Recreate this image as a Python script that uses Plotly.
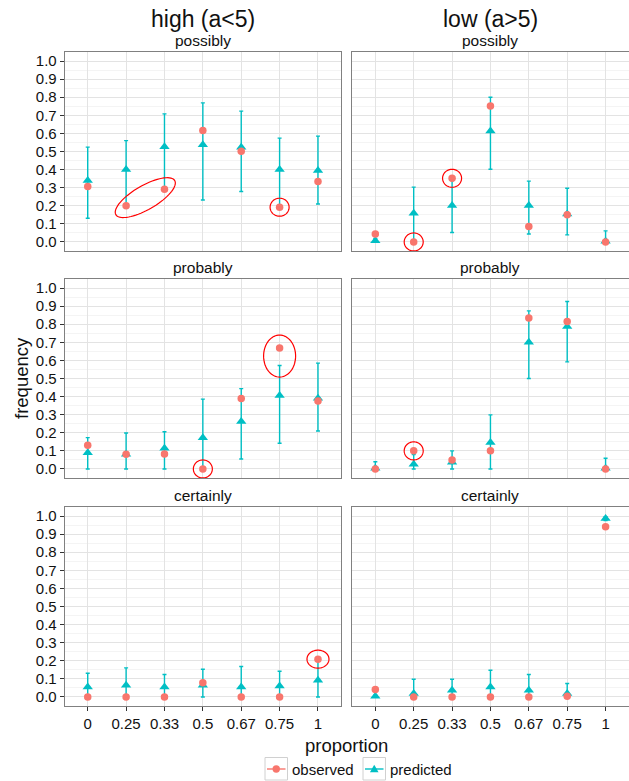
import math
import plotly.graph_objects as go

W, H = 629, 781

categories = ["0", "0.25", "0.33", "0.5", "0.67", "0.75", "1"]
groups = ["high (a<5)", "low (a>5)"]
levels = ["possibly", "probably", "certainly"]
series_names = ["observed", "predicted"]

# observed frequencies
obs_high_possibly = [0.306, 0.200, 0.292, 0.616, 0.502, 0.192, 0.334]
obs_low_possibly = [0.044, 0.000, 0.352, 0.751, 0.085, 0.151, 0.000]
obs_high_probably = [0.131, 0.081, 0.083, 0.000, 0.389, 0.668, 0.376]
obs_low_probably = [0.000, 0.100, 0.050, 0.100, 0.834, 0.815, 0.000]
obs_high_certainly = [0.000, 0.000, 0.000, 0.079, 0.000, 0.000, 0.209]
obs_low_certainly = [0.041, 0.000, 0.000, 0.000, 0.000, 0.004, 0.941]

# predicted frequencies
pred_high_possibly = [0.340, 0.400, 0.526, 0.538, 0.524, 0.400, 0.395]
pred_low_possibly = [0.007, 0.159, 0.201, 0.613, 0.201, 0.155, 0.004]
pred_high_probably = [0.090, 0.081, 0.114, 0.173, 0.262, 0.406, 0.391]
pred_low_probably = [0.004, 0.026, 0.037, 0.146, 0.701, 0.787, 0.004]
pred_high_certainly = [0.055, 0.065, 0.055, 0.065, 0.055, 0.061, 0.092]
pred_low_certainly = [0.004, 0.019, 0.037, 0.055, 0.037, 0.019, 0.987]

# predicted interval upper / lower bounds
upper_high_possibly = [0.524, 0.560, 0.708, 0.769, 0.723, 0.574, 0.585]
lower_high_possibly = [0.131, 0.200, 0.300, 0.232, 0.279, 0.200, 0.210]
upper_low_possibly = [0.020, 0.303, 0.340, 0.800, 0.336, 0.297, 0.061]
lower_low_possibly = [0.000, 0.000, 0.052, 0.402, 0.044, 0.039, 0.000]
upper_high_probably = [0.173, 0.199, 0.206, 0.386, 0.444, 0.572, 0.585]
lower_high_probably = [0.000, 0.000, 0.000, 0.000, 0.055, 0.142, 0.210]
upper_low_probably = [0.040, 0.080, 0.100, 0.299, 0.874, 0.926, 0.059]
lower_low_probably = [0.000, 0.000, 0.000, 0.000, 0.500, 0.592, 0.000]
upper_high_certainly = [0.131, 0.161, 0.124, 0.153, 0.168, 0.142, 0.200]
lower_high_certainly = [0.000, 0.000, 0.000, 0.000, 0.000, 0.000, 0.000]
upper_low_certainly = [0.010, 0.098, 0.098, 0.148, 0.124, 0.074, 0.997]
lower_low_certainly = [0.000, 0.000, 0.000, 0.000, 0.000, 0.000, 0.975]

panels = {
    ("possibly", 0): (obs_high_possibly, pred_high_possibly, upper_high_possibly, lower_high_possibly),
    ("possibly", 1): (obs_low_possibly, pred_low_possibly, upper_low_possibly, lower_low_possibly),
    ("probably", 0): (obs_high_probably, pred_high_probably, upper_high_probably, lower_high_probably),
    ("probably", 1): (obs_low_probably, pred_low_probably, upper_low_probably, lower_low_probably),
    ("certainly", 0): (obs_high_certainly, pred_high_certainly, upper_high_certainly, lower_high_certainly),
    ("certainly", 1): (obs_low_certainly, pred_low_certainly, upper_low_certainly, lower_low_certainly),
}

# highlighted points: (level, column, category index, value, rx_px, ry_px, angle_deg)
highlights = [
    ("possibly", 0, 1.5, 0.245, 34, 12, 30),
    ("possibly", 0, 5, 0.192, 9.5, 9, 0),
    ("possibly", 1, 1, 0.0, 9.5, 9, 0),
    ("possibly", 1, 2, 0.352, 9.5, 9, 0),
    ("probably", 0, 3, 0.0, 9.5, 9, 0),
    ("probably", 0, 5, 0.624, 16, 21, 0),
    ("probably", 1, 1, 0.10, 9.5, 9, 0),
    ("certainly", 0, 6, 0.209, 11, 9, 0),
]

RED = "#F8766D"
CYAN = "#00BFC4"
FONT = "Liberation Sans, Arial, sans-serif"

# panel geometry in pixels
col_x = [(64.7, 341.0), (352.3, 628.6)]
row_y = [(52, 251), (279, 478), (507, 706)]
XR = [-0.6, 6.6]
YR = [-0.05, 1.05]

fig = go.Figure()
layout = dict(
    width=W, height=H,
    margin=dict(l=0, r=0, t=0, b=0),
    paper_bgcolor="white", plot_bgcolor="white",
    font=dict(family=FONT, color="#111"),
    showlegend=False,
)
shapes = []
annotations = []
xs = list(range(len(categories)))

for r, lev in enumerate(levels):
    for c in range(2):
        k = r * 2 + c + 1
        xa = "x" if k == 1 else f"x{k}"
        ya = "y" if k == 1 else f"y{k}"
        obs, pred, up, lo = panels[(lev, c)]
        fig.add_trace(go.Scatter(
            x=xs, y=pred, mode="markers", xaxis=xa, yaxis=ya, name=series_names[1],
            marker=dict(symbol="triangle-up", size=9, color=CYAN),
            error_y=dict(type="data", symmetric=False,
                         array=[u - p for u, p in zip(up, pred)],
                         arrayminus=[p - l for p, l in zip(pred, lo)],
                         color=CYAN, thickness=1.4, width=2),
            hoverinfo="y"))
        fig.add_trace(go.Scatter(
            x=xs, y=obs, mode="markers", xaxis=xa, yaxis=ya, name=series_names[0],
            marker=dict(symbol="circle", size=7.5, color=RED),
            hoverinfo="y"))

        x0, x1 = col_x[c]
        y0, y1 = row_y[r]
        xd = [x0 / W, x1 / W]
        yd = [1 - y1 / H, 1 - y0 / H]
        xkey = "xaxis" if k == 1 else f"xaxis{k}"
        ykey = "yaxis" if k == 1 else f"yaxis{k}"
        bottom = (r == len(levels) - 1)
        left = (c == 0)
        layout[xkey] = dict(
            domain=xd, anchor=ya, range=XR, tickmode="array",
            tickvals=xs, ticktext=categories,
            showticklabels=bottom, ticks="outside" if bottom else "",
            ticklen=4, tickcolor="#333", tickfont=dict(size=15, color="#111"),
            showgrid=True, gridcolor="#e3e3e3", gridwidth=1,
            zeroline=False, showline=True, linecolor="#808080",
            linewidth=1, mirror=True, fixedrange=True)
        layout[ykey] = dict(
            domain=yd, anchor=xa, range=YR, tickmode="array",
            tickvals=[i / 10 for i in range(11)],
            ticktext=[f"{i / 10:.1f}" for i in range(11)],
            showticklabels=left, ticks="outside" if left else "",
            ticklen=4, tickcolor="#333", tickfont=dict(size=15, color="#111"),
            showgrid=True, gridcolor="#e3e3e3", gridwidth=1,
            minor=dict(tickvals=[i / 10 + 0.05 for i in range(-1, 11)],
                       showgrid=True, gridcolor="#f4f4f4", gridwidth=1, ticks=""),
            zeroline=False, showline=True, linecolor="#808080",
            linewidth=1, mirror=True, fixedrange=True)

        # strip title
        annotations.append(dict(
            text=lev, x=(xd[0] + xd[1]) / 2, y=yd[1], xref="paper", yref="paper",
            xanchor="center", yanchor="bottom", yshift=1, showarrow=False,
            font=dict(size=15.5, color="#111")))

        # highlight ellipses
        ppx = (x1 - x0) / (XR[1] - XR[0])
        ppy = (y1 - y0) / (YR[1] - YR[0])
        for (hl, hc, hx, hy, rx, ry, ang) in highlights:
            if hl != lev or hc != c:
                continue
            t = math.radians(ang)
            pts = []
            for i in range(73):
                a = 2 * math.pi * i / 72
                ex, ey = rx * math.cos(a), ry * math.sin(a)
                dx = ex * math.cos(t) - ey * math.sin(t)
                dy = ex * math.sin(t) + ey * math.cos(t)
                pts.append((hx + dx / ppx, hy + dy / ppy))
            path = "M " + " L ".join(f"{px:.4f},{py:.4f}" for px, py in pts) + " Z"
            shapes.append(dict(type="path", path=path, xref=xa, yref=ya,
                               line=dict(color="#FF0000", width=1.2)))

# column titles
for c, g in enumerate(groups):
    x0, x1 = col_x[c]
    annotations.append(dict(
        text=g, x=(x0 + x1) / 2 / W, y=1 - 19 / H, xref="paper", yref="paper",
        xanchor="center", yanchor="middle", showarrow=False,
        font=dict(size=23, color="#111")))

annotations.append(dict(
    text="proportion", x=(col_x[0][0] + col_x[1][1]) / 2 / W, y=1 - 745 / H,
    xref="paper", yref="paper", xanchor="center", yanchor="middle",
    showarrow=False, font=dict(size=18.5, color="#111")))
annotations.append(dict(
    text="frequency", x=22 / W, y=1 - 378 / H, xref="paper", yref="paper",
    xanchor="center", yanchor="middle", textangle=-90,
    showarrow=False, font=dict(size=18.5, color="#111")))

# legend drawn ggplot-style: boxed keys with line + marker, then label
def px_x(v):
    return v / W

def px_y(v):
    return 1 - v / H

legend_keys = [(265, series_names[0], RED, "circle"), (363, series_names[1], CYAN, "triangle")]
ky0, ky1, kc = 757.5, 780, 769
for kx, name, col, sym in legend_keys:
    shapes.append(dict(type="rect", xref="paper", yref="paper",
                       x0=px_x(kx), x1=px_x(kx + 22.5), y0=px_y(ky1), y1=px_y(ky0),
                       line=dict(color="#d0d0d0", width=1), fillcolor="white", layer="above"))
    shapes.append(dict(type="line", xref="paper", yref="paper",
                       x0=px_x(kx + 2), x1=px_x(kx + 20.5), y0=px_y(kc), y1=px_y(kc),
                       line=dict(color=col, width=1.4), layer="above"))
    cx = kx + 11.25
    if sym == "circle":
        shapes.append(dict(type="circle", xref="paper", yref="paper",
                           x0=px_x(cx - 3.7), x1=px_x(cx + 3.7),
                           y0=px_y(kc + 3.7), y1=px_y(kc - 3.7),
                           line=dict(width=0), fillcolor=col, layer="above"))
    else:
        path = (f"M {px_x(cx - 4.3):.5f},{px_y(kc + 3.2):.5f} "
                f"L {px_x(cx + 4.3):.5f},{px_y(kc + 3.2):.5f} "
                f"L {px_x(cx):.5f},{px_y(kc - 4.3):.5f} Z")
        shapes.append(dict(type="path", xref="paper", yref="paper", path=path,
                           line=dict(width=0), fillcolor=col, layer="above"))
    annotations.append(dict(
        text=name, x=px_x(kx + 24.5), y=px_y(kc), xref="paper", yref="paper",
        xanchor="left", yanchor="middle", showarrow=False,
        font=dict(size=15, color="#111")))

layout["shapes"] = shapes
layout["annotations"] = annotations
fig.update_layout(**layout)

fig.write_html("out.html")
